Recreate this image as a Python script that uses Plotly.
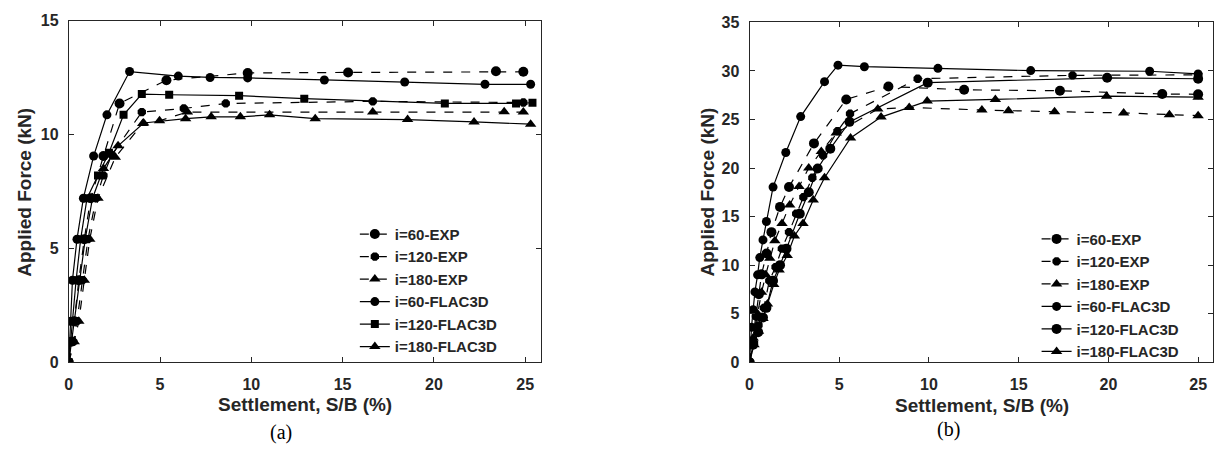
import plotly.graph_objects as go

# ---------------- data: panel (a) ----------------
a_60_exp_x = [0, 0.15, 0.3, 0.55, 0.85, 1.2, 1.9, 2.78, 5.35, 9.8, 15.3, 23.4, 24.9]
a_60_exp_y = [0, 0.9, 1.8, 3.6, 5.4, 7.2, 9.05, 11.36, 12.38, 12.7, 12.72, 12.77, 12.75]
a_120_exp_x = [0, 0.25, 0.45, 0.75, 1.05, 1.5, 1.9, 2.35, 4.0, 6.3, 8.6, 16.65, 24.9]
a_120_exp_y = [0, 0.9, 1.8, 3.6, 5.4, 7.2, 8.2, 9.1, 10.98, 11.14, 11.36, 11.45, 11.4]
a_180_exp_x = [0, 0.3, 0.55, 0.85, 1.15, 1.6, 2.55, 4.05, 4.97, 6.5, 16.65, 23.85, 24.9]
a_180_exp_y = [0, 0.9, 1.8, 3.6, 5.4, 7.2, 9.0, 10.48, 10.6, 10.98, 10.98, 11.0, 10.98]
a_60_fl_x = [0, 0.05, 0.1, 0.2, 0.45, 0.8, 1.36, 2.09, 3.33, 6.0, 7.74, 9.8, 14.0, 18.4, 22.8, 25.3]
a_60_fl_y = [0, 0.9, 1.8, 3.6, 5.4, 7.2, 9.05, 10.86, 12.76, 12.56, 12.5, 12.48, 12.39, 12.3, 12.2, 12.2]
a_120_fl_x = [0, 0.1, 0.2, 0.4, 0.65, 1.0, 1.6, 2.2, 3.0, 4.0, 5.5, 9.33, 12.9, 20.6, 24.5, 25.4]
a_120_fl_y = [0, 0.9, 1.8, 3.6, 5.4, 7.2, 8.2, 9.2, 10.86, 11.77, 11.74, 11.7, 11.57, 11.36, 11.36, 11.39]
a_180_fl_x = [0, 0.15, 0.3, 0.6, 0.9, 1.3, 1.9, 2.7, 4.1, 6.4, 7.8, 9.4, 11.0, 13.5, 18.56, 22.2, 25.3]
a_180_fl_y = [0, 0.9, 1.8, 3.6, 5.4, 7.2, 8.5, 9.5, 10.5, 10.69, 10.77, 10.77, 10.86, 10.69, 10.65, 10.55, 10.45]

# ---------------- data: panel (b) ----------------
b_60_exp_x = [0, 0.15, 0.39, 0.52, 0.67, 0.95, 1.22, 1.7, 2.2, 3.59, 5.39, 7.74, 11.96, 17.3, 23.0, 25.0]
b_60_exp_y = [0, 2.0, 4.76, 7.0, 9.05, 11.2, 13.4, 16.0, 18.04, 22.54, 27.07, 28.4, 28.06, 27.96, 27.63, 27.6]
b_120_exp_x = [0, 0.25, 0.5, 0.8, 1.1, 1.45, 1.8, 2.2, 2.6, 3.0, 3.5, 4.1, 4.9, 5.6, 9.37, 18.0, 25.0]
b_120_exp_y = [0, 2.0, 3.8, 5.6, 8.4, 9.8, 11.7, 13.4, 15.3, 17.0, 19.0, 21.3, 23.8, 25.6, 29.2, 29.55, 29.6]
b_180_exp_x = [0, 0.2, 0.45, 0.67, 0.9, 1.13, 1.41, 1.81, 2.24, 2.76, 3.3, 4.0, 4.83, 7.15, 8.9, 12.95, 14.43, 17.0, 20.85, 23.4, 25.0]
b_180_exp_y = [0, 2.5, 5.0, 7.2, 9.0, 10.7, 12.5, 14.3, 16.2, 18.1, 20.0, 21.7, 23.6, 26.08, 26.24, 25.98, 25.9, 25.8, 25.68, 25.48, 25.4]
b_60_fl_x = [0, 0.05, 0.11, 0.2, 0.3, 0.45, 0.57, 0.75, 0.94, 1.31, 2.02, 2.85, 4.18, 4.93, 6.4, 10.5, 15.67, 22.3, 25.0]
b_60_fl_y = [0, 1.8, 3.6, 5.4, 7.24, 9.0, 10.78, 12.6, 14.5, 18.04, 21.6, 25.3, 28.9, 30.6, 30.44, 30.27, 30.04, 29.97, 29.7]
b_120_fl_x = [0, 0.2, 0.48, 0.75, 0.94, 1.31, 1.7, 2.06, 2.8, 3.3, 3.8, 4.5, 5.57, 9.93, 19.93, 25.0]
b_120_fl_y = [0, 1.8, 3.1, 4.6, 5.6, 8.4, 10.0, 11.7, 15.3, 17.5, 19.96, 22.0, 24.76, 28.8, 29.3, 29.2]
b_180_fl_x = [0, 0.25, 0.5, 0.75, 1.0, 1.35, 1.65, 2.1, 2.5, 2.98, 3.55, 4.18, 5.63, 7.33, 9.9, 13.7, 19.9, 25.0]
b_180_fl_y = [0, 1.8, 3.2, 4.5, 6.0, 8.0, 9.5, 11.0, 13.0, 14.3, 16.7, 19.0, 23.1, 25.25, 26.9, 27.07, 27.4, 27.3]

names = ["i=60-EXP", "i=120-EXP", "i=180-EXP", "i=60-FLAC3D", "i=120-FLAC3D", "i=180-FLAC3D"]
x_ticks = [0, 5, 10, 15, 20, 25]
ya_ticks = [0, 5, 10, 15]
yb_ticks = [0, 5, 10, 15, 20, 25, 30, 35]

W, H = 1215, 454
INK = "#262626"
FONT = "Liberation Sans, Arial, sans-serif"

panel_a = [(a_60_exp_x, a_60_exp_y), (a_120_exp_x, a_120_exp_y), (a_180_exp_x, a_180_exp_y),
           (a_60_fl_x, a_60_fl_y), (a_120_fl_x, a_120_fl_y), (a_180_fl_x, a_180_fl_y)]
panel_b = [(b_60_exp_x, b_60_exp_y), (b_120_exp_x, b_120_exp_y), (b_180_exp_x, b_180_exp_y),
           (b_60_fl_x, b_60_fl_y), (b_120_fl_x, b_120_fl_y), (b_180_fl_x, b_180_fl_y)]

styles_a = [("dash", "circle", 10), ("dash", "octagon", 9), ("dash", "triangle-up", 10),
            ("solid", "circle", 9), ("solid", "square", 8), ("solid", "triangle-up", 10)]
styles_b = [("dash", "circle", 10), ("dash", "octagon", 9), ("dash", "triangle-up", 10),
            ("solid", "circle", 9), ("solid", "circle", 10), ("solid", "triangle-up", 10)]

fig = go.Figure()
for (xs, ys), (dash, sym, sz), nm in zip(panel_a, styles_a, names):
    fig.add_trace(go.Scatter(x=xs, y=ys, name=nm, mode="lines+markers",
                             line=dict(color="black", width=1.2, dash=dash),
                             marker=dict(symbol=sym, size=sz, color="black"),
                             xaxis="x", yaxis="y", legend="legend"))
for (xs, ys), (dash, sym, sz), nm in zip(panel_b, styles_b, names):
    fig.add_trace(go.Scatter(x=xs, y=ys, name=nm, mode="lines+markers",
                             line=dict(color="black", width=1.2, dash=dash),
                             marker=dict(symbol=sym, size=sz, color="black"),
                             xaxis="x2", yaxis="y2", legend="legend2"))

tickfont = dict(family=FONT, size=16, color=INK, weight="bold")
common = dict(showgrid=False, zeroline=False, showline=True, linecolor=INK, linewidth=1,
              mirror="ticks", ticks="inside", ticklen=5, tickcolor=INK, tickfont=tickfont)

def px(v):
    return v / W

def py(v):
    return 1 - v / H

legend_font = dict(family=FONT, size=15, color=INK, weight="bold")

fig.update_layout(
    width=W, height=H, margin=dict(l=0, r=0, t=0, b=0),
    paper_bgcolor="white", plot_bgcolor="white",
    xaxis=dict(domain=[px(65), px(539)], range=[0, 25.88], tickvals=x_ticks, anchor="y",
               ticklabelstandoff=8, **common),
    yaxis=dict(domain=[py(368), py(13)], range=[0, 15], tickvals=ya_ticks, anchor="x",
               ticklabelstandoff=6, **common),
    xaxis2=dict(domain=[px(748), px(1213)], range=[0, 25.83], tickvals=x_ticks, anchor="y2",
                ticklabelstandoff=8, **common),
    yaxis2=dict(domain=[py(368), py(15)], range=[0, 35], tickvals=yb_ticks, anchor="x2",
                ticklabelstandoff=6, **common),
    legend=dict(x=px(352), y=py(218), xanchor="left", yanchor="top", bgcolor="rgba(255,255,255,0)",
                font=legend_font, tracegroupgap=0),
    legend2=dict(x=px(1036), y=py(223), xanchor="left", yanchor="top", bgcolor="rgba(255,255,255,0)",
                 font=legend_font, tracegroupgap=0),
    showlegend=True,
)

title_font = dict(family=FONT, size=19, color=INK, weight="bold")
ann = [
    dict(text="Settlement, S/B (%)", x=px(302), y=py(412), font=title_font, textangle=0),
    dict(text="Settlement, S/B (%)", x=px(981), y=py(413), font=title_font, textangle=0),
    dict(text="Applied Force (kN)", x=px(21), y=py(191), font=title_font, textangle=-90),
    dict(text="Applied Force (kN)", x=px(706), y=py(191), font=title_font, textangle=-90),
    dict(text="(a)", x=px(278), y=py(441), font=dict(family="Liberation Serif, Times New Roman, serif", size=20, color="black"), textangle=0),
    dict(text="(b)", x=px(948), y=py(438), font=dict(family="Liberation Serif, Times New Roman, serif", size=20, color="black"), textangle=0),
]
for a in ann:
    fig.add_annotation(xref="paper", yref="paper", xanchor="center", yanchor="middle",
                       showarrow=False, **a)

fig.write_html("out.html")
